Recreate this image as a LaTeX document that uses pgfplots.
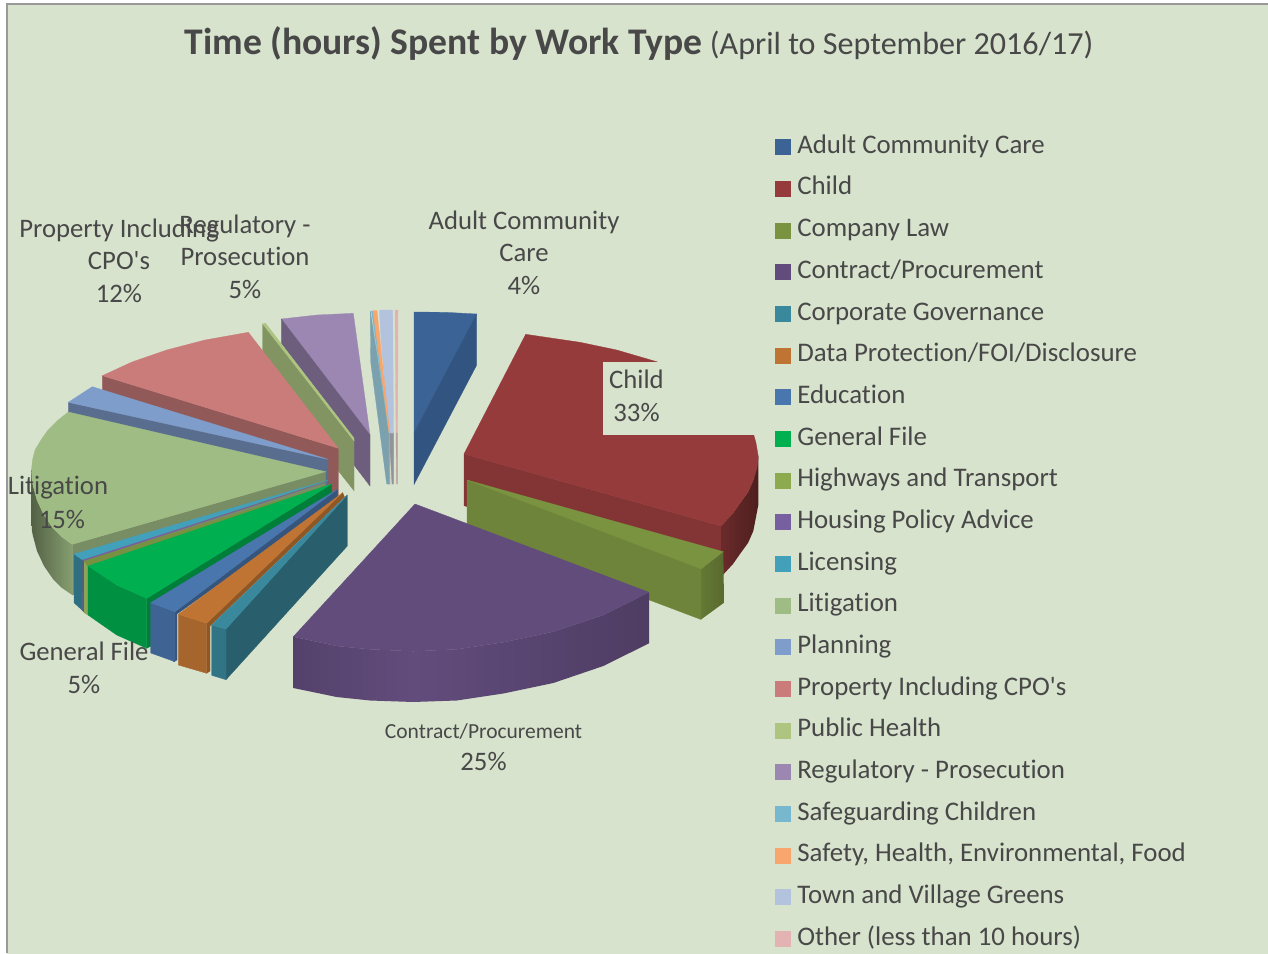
\documentclass[border=0pt]{standalone}
\usepackage{fontspec}
\newfontfamily\carl{Carlito}[Ligatures=NoCommon]
\usepackage{pgfplots}
\pgfplotsset{compat=1.18}
\newcommand\poly[2]{\addplot[fill=#1,draw=#1,line width=0.3pt,mark=none,forget plot] coordinates {#2} --cycle;}
\newcommand\shpoly[3]{\addplot[left color=#1,right color=#2,draw=none,mark=none,forget plot] coordinates {#3} --cycle;}
\definecolor{txt}{HTML}{484848}
\definecolor{bgc}{HTML}{D7E3CD}
\definecolor{cA}{HTML}{3B6396}\definecolor{cB}{HTML}{953B3B}\definecolor{cC}{HTML}{7A9340}\definecolor{cD}{HTML}{624C7C}
\definecolor{cE}{HTML}{3A889C}\definecolor{cF}{HTML}{BF7433}\definecolor{cG}{HTML}{4A76AE}\definecolor{cH}{HTML}{00B050}
\definecolor{cI}{HTML}{8DAA4E}\definecolor{cJ}{HTML}{7660A0}\definecolor{cK}{HTML}{42A0BA}\definecolor{cL}{HTML}{A0BC85}
\definecolor{cM}{HTML}{7F9DCB}\definecolor{cN}{HTML}{C97C7A}\definecolor{cO}{HTML}{AEC582}\definecolor{cP}{HTML}{9C87B3}
\definecolor{cQ}{HTML}{78B8CE}\definecolor{cR}{HTML}{F9A66E}\definecolor{cS}{HTML}{B3C2DD}\definecolor{cT}{HTML}{E3B2B2}
\begin{document}
\carl
\begin{tikzpicture}
\begin{axis}[
  scale only axis,width=1268pt,height=953pt,
  xmin=0,xmax=1268,ymin=0,ymax=953,y dir=reverse,
  hide axis,clip=false,
  legend image code/.code={\fill[#1,draw=none] (0pt,-8pt) rectangle (16pt,8pt);},
  legend cell align=left,
  legend style={at={(axis cs:775.3,126.3)},anchor=north west,draw=none,fill=none,inner sep=0pt,outer sep=0pt,
    font=\fontsize{26.85}{30}\selectfont\color{txt},row sep=0pt,column sep=6pt,
    nodes={inner xsep=0pt,inner ysep=0pt,outer sep=0pt,text height=27pt,text depth=14.68pt}},
]
% background and frame
\poly{bgc}{(7,4)(1268,4)(1268,953)(7,953)}
\addplot[draw=black!40,line width=2pt,mark=none,forget plot] coordinates {(7,953)(7,4)(1268,4)};
% Adult Community Care
\poly{cA}{(414,312)(445,312.3)(476.7,314)(414,433)}
\poly{cA!85!black}{(414,433)(476.7,314)(476.7,365)(414,484.5)}
% Other
\poly{cT}{(395,310)(398,310)(397.7,433)(396,433)}
\poly{cT!60!gray}{(396,433)(397.7,433)(397.7,484)(396.5,484)}
% Town and Village Greens
\poly{gray!70!cS}{(381,330)(389,433)(393.5,433)(393.5,484)(392,484)(389,433)}
\poly{cS}{(379.5,310)(392.7,310)(393.5,433)(389.5,433)(381,340)}
% Safeguarding and Safety
\poly{cQ!60!gray}{(370.3,311)(370.7,362)(386.7,484)(390,484)(389.3,433)}
\poly{cQ}{(371.5,311)(373.3,311)(389.3,433)(388.8,433)}
\poly{cR}{(373,310.5)(377,310.5)(389.7,433)(389,433)}
\poly{cR!70!gray}{(389,433)(389.7,433)(389.9,484)(389.2,484)}
% Regulatory
\poly{cP}{(281.3,319)(317,315)(353.3,313.3)(370,435)}
\poly{cP!70!black}{(281.3,319)(370,435)(370,486)(281.3,370)}
% Public Health
\poly{cO!75!black}{(262.7,324)(354,440)(354,490.7)(262.7,375)}
\poly{cO}{(262.7,324)(265.3,323)(354,438)(354,441)}
% Property
\poly{cN!72!black}{(102.3,375.7)(338.3,448.3)(338.3,498)(102.3,427)}
\poly{cN}{(102.3,375.7)(132,362)(166.7,350)(205,340)(248.3,332.3)(338.3,448.3)}
% Planning
\poly{cM!70!black}{(68.3,402.3)(328,459.3)(328,510)(68.3,453)}
\poly{cM}{(68.3,402.3)(92.3,386.7)(328,459.3)}
% Litigation walls
\poly{cL!75!black}{(72.3,544.3)(325.7,471.7)(325.7,522)(72.3,595)}
\shpoly{cL!52!black}{cL!84!black}{(31.5,470)(32,480)(33,485)(37,500)(44,515)(53,528)(62,537)(72.3,544.3)(72.3,595)(62,588)(53,579)(44,566)(37,551)(33,536)(32,531)(31.5,521)}
\poly{cL}{(68.3,412)(57,421)(48,430)(41,440)(35,450)(32.5,460)(31.5,470)(32,480)(33,485)(37,500)(44,515)(53,528)(62,537)(72.3,544.3)(325.7,471.7)}
% Licensing
\poly{cK!70!black}{(74,554)(82.7,560)(82.7,610.7)(74,602.7)}
\poly{cK}{(74,554)(82.7,560)(328.3,480)}
% Housing
\poly{cJ!80!black}{(82.7,560)(84.3,561)(84.3,612)(82.7,611)}
\poly{cJ}{(82.7,560)(84.3,561)(329,481)}
% Highways
\poly{cI!85!gray}{(84,561)(88,566)(88,615)(84,612.7)}
\poly{cI!85!black}{(84,561)(88,566)(331,484.5)}
% General File
\poly{cH!72!black}{(146.7,598.3)(331.7,484)(331.7,497)(151,603)(151,646)(146.7,648.3)}
\poly{cH!82!black}{(88,566)(116.7,585)(146.7,598.3)(146.7,648.3)(116.7,635)(88,615)}
\poly{cH}{(88,566)(116.7,585)(146.7,598.3)(331.7,484)}
% Education
\poly{cG!72!black}{(175,611.7)(337.3,489.3)(337.3,500)(177,614)(177,660)(173.3,661.7)}
\poly{cG!85!black}{(150.7,602.7)(175,611.7)(175,661.7)(150.7,653)}
\poly{cG}{(150.7,602.7)(175,611.7)(337.3,489.3)}
% Data Protection
\poly{cF!75!black}{(206.7,623.3)(342.7,492.7)(344.5,497)(210,626)(210,671)(206.7,673.3)}
\poly{cF!87!black}{(178.3,614.3)(206.7,623.3)(206.7,673.3)(178.3,665)}
\poly{cF}{(178.3,614.3)(206.7,623.3)(342.7,492.7)}
% Corporate Governance
\poly{cE!70!black}{(226,629)(347.3,495)(347.3,546)(226,679.7)}
\poly{cE!85!black}{(211.7,625)(226,629)(226,679.7)(211.7,675.3)}
\poly{cE}{(211.7,625)(226,629)(347.3,495)}
% Child
\poly{cB!88!black}{(464,454)(721,526)(721,577)(464,505.7)}
\shpoly{cB!72!black}{cB!52!black}{(721,526)(733,513)(740,503)(748,492)(753.3,480)(758.3,456.7)(758.3,505)(753.3,531)(748,543)(740,554)(733,564)(721,577)}
\poly{cB}{(525.7,334.3)(580,342.3)(616.7,350)(656.7,361.7)(700,386)(753.3,433.3)(756,443)(758.3,456.7)(757,468)(753.3,480)(748,492)(740,503)(733,513)(721,526)(464,454)}
\poly{bgc}{(603,361.7)(765,361.7)(765,434)(603,434)}
% Company Law
\poly{cC!90!black}{(467,480)(701,569)(701,619.5)(467,531)}
\shpoly{cC!82!black}{cC!72!black}{(701,569)(723.3,551.7)(724,602.7)(701,619.5)}
\poly{cC}{(467,480)(723.3,551.7)(701,569)}
% Contract/Procurement
\shpoly{cD!86!black}{cD}{(293.3,636.7)(336.7,646)(370,649.3)(413.3,651.3)(413.3,702)(370,700.5)(336.7,697)(293.3,688)}
\shpoly{cD}{cD!80!black}{(413,651.3)(456.7,649.3)(503.3,642.3)(553.3,631.7)(603.3,615)(649,592.3)(649,643.3)(603.3,666)(553.3,683)(503.3,693.5)(456.7,700.5)(413,702)}
\poly{cD}{(415,504)(649,592.3)(603.3,615)(553.3,631.7)(503.3,642.3)(456.7,649.3)(413.3,651.3)(370,649.3)(336.7,646)(293.3,636.7)}
% legend
\addlegendimage{fill=cA}\addlegendentry{Adult Community Care}
\addlegendimage{fill=cB}\addlegendentry{Child}
\addlegendimage{fill=cC}\addlegendentry{Company Law}
\addlegendimage{fill=cD}\addlegendentry{Contract/Procurement}
\addlegendimage{fill=cE}\addlegendentry{Corporate Governance}
\addlegendimage{fill=cF}\addlegendentry{Data Protection/FOI/Disclosure}
\addlegendimage{fill=cG}\addlegendentry{Education}
\addlegendimage{fill=cH}\addlegendentry{General File}
\addlegendimage{fill=cI}\addlegendentry{Highways and Transport}
\addlegendimage{fill=cJ}\addlegendentry{Housing Policy Advice}
\addlegendimage{fill=cK}\addlegendentry{Licensing}
\addlegendimage{fill=cL}\addlegendentry{Litigation}
\addlegendimage{fill=cM}\addlegendentry{Planning}
\addlegendimage{fill=cN}\addlegendentry{Property Including CPO's}
\addlegendimage{fill=cO}\addlegendentry{Public Health}
\addlegendimage{fill=cP}\addlegendentry{Regulatory - Prosecution}
\addlegendimage{fill=cQ}\addlegendentry{Safeguarding Children}
\addlegendimage{fill=cR}\addlegendentry{Safety, Health, Environmental, Food}
\addlegendimage{fill=cS}\addlegendentry{Town and Village Greens}
\addlegendimage{fill=cT}\addlegendentry{Other (less than 10 hours)}
% title and labels
\node[text=txt,anchor=base,inner sep=0pt] at (axis cs:639,54) {\fontsize{37.6}{40}\selectfont\textbf{Time (hours) Spent by Work Type}\hspace{-1pt} \fontsize{32.1}{40}\selectfont (April to September 2016/17)};
\tikzset{lab/.style={text=txt,align=center,inner sep=0pt,font=\fontsize{26.7}{32.5}\selectfont}}
\node[lab] at (axis cs:524,252.5) {Adult Community\\Care\\4\%};
\node[lab] at (axis cs:636.5,396) {Child\\33\%};
\node[lab] at (axis cs:119,260.5) {Property Including\\CPO's\\12\%};
\node[lab] at (axis cs:245,256.5) {Regulatory -\\Prosecution\\5\%};
\node[lab] at (axis cs:58,487.5) {Litigation};
\node[lab] at (axis cs:62,519) {15\%};
\node[lab] at (axis cs:84,668) {General File\\5\%};
\node[text=txt,inner sep=0pt,font=\fontsize{21.5}{26}\selectfont] at (axis cs:483.5,731) {Contract/Procurement};
\node[lab] at (axis cs:483.5,761) {25\%};
\end{axis}
\pgfresetboundingbox
\path (current axis.south west) rectangle (current axis.north east);
\end{tikzpicture}
\end{document}
